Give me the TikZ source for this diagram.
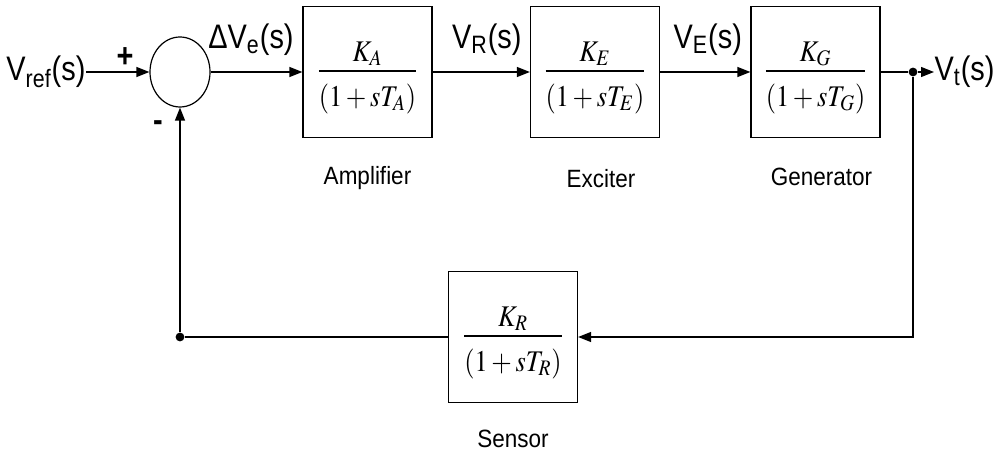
\documentclass[tikz,border=0pt]{standalone}
\usepackage{amsmath}
\usepackage{mathptmx}
\usepackage[no-math]{fontspec}
\setmainfont[FakeStretch=0.9]{Liberation Sans}
\newfontfamily\sigfont[FakeStretch=0.85]{Liberation Sans}
\usetikzlibrary{positioning,shapes.geometric,arrows.meta}

\newcommand{\tfblock}[2]{\scalebox{0.88}[1]{$\displaystyle\frac{\raisebox{-1.5pt}{$K_{#1}$}\rule{0pt}{14pt}}{\rule{0pt}{15.5pt}(1+sT_{#2})}$}}

\tikzset{
	block/.style={draw, minimum width=64.5pt, minimum height=65.5pt, inner sep=0pt, font=\fontsize{15}{18}\selectfont},
	summer/.style={draw, ellipse, minimum width=30pt, minimum height=35pt, inner sep=0pt},
	tapdot/.style={circle, fill, inner sep=0pt, minimum size=4.4pt},
	sig/.style={inner sep=0pt, font=\sigfont\fontsize{17}{20}\selectfont},
	blocklabel/.style={inner sep=0pt, font=\fontsize{12.5}{15}\selectfont},
	flow/.style={-{Triangle[length=6.5pt,width=5pt]}},
}

\begin{document}
\begin{tikzpicture}[x=0.5pt, y=-0.5pt, auto, line width=0.6pt]
	\useasboundingbox (0,0) rectangle (1005,453);
	% Define nodes
	\node (sum) [summer] at (180,72) {};
	\node (amp) [block] at (367.5,72) {\tfblock{A}{A}};
	\node (exc) [block, right of=amp, node distance=113.75pt] {\tfblock{E}{E}};
	\node (gen) [block, right of=exc, node distance=110.25pt] {\tfblock{G}{G}};
	\node (sens) [block] at (513,337) {\tfblock{R}{R}};

	\node (vref) [sig, anchor=east] at (86,72) {V\textsubscript{ref}(s)};
	\node (tap) [tapdot] at (913,72) {};
	\node (vt) [sig, anchor=west] at (934,72) {V\textsubscript{t}(s)};
	\node (join) [tapdot] at (180,337) {};
	\node (plus) [sig, font=\sigfont\fontsize{17}{20}\selectfont\bfseries] at (125,58) {+};
	\node (minus) [sig, font=\sigfont\fontsize{17}{20}\selectfont\bfseries] at (158,126.5) {-};

	% Block captions
	\node (amplbl) [blocklabel, below=13.75pt of amp] {Amplifier};
	\node (exclbl) [blocklabel, below=15.5pt of exc, xshift=3pt] {Exciter};
	\node (genlbl) [blocklabel, below=14.75pt of gen, xshift=3pt] {Generator};
	\node (senslbl) [blocklabel, below=13pt of sens] {Sensor};

	% Draw edges
	\path[flow]
	(vref) edge (sum)
	(sum) edge node[sig, above=8pt, xshift=-2.75pt] {ΔV\textsubscript{e}(s)} (amp)
	(amp) edge node[sig, above=8pt, xshift=2.75pt] {V\textsubscript{R}(s)} (exc)
	(exc) edge node[sig, above=8pt, xshift=1.25pt] {V\textsubscript{E}(s)} (gen)
	(tap) edge (vt)
	(join) edge (sum);

	\draw (gen) -- (tap);
	\draw[flow] (tap) |- (sens);
	\draw (sens) -- (join);
\end{tikzpicture}
\end{document}
